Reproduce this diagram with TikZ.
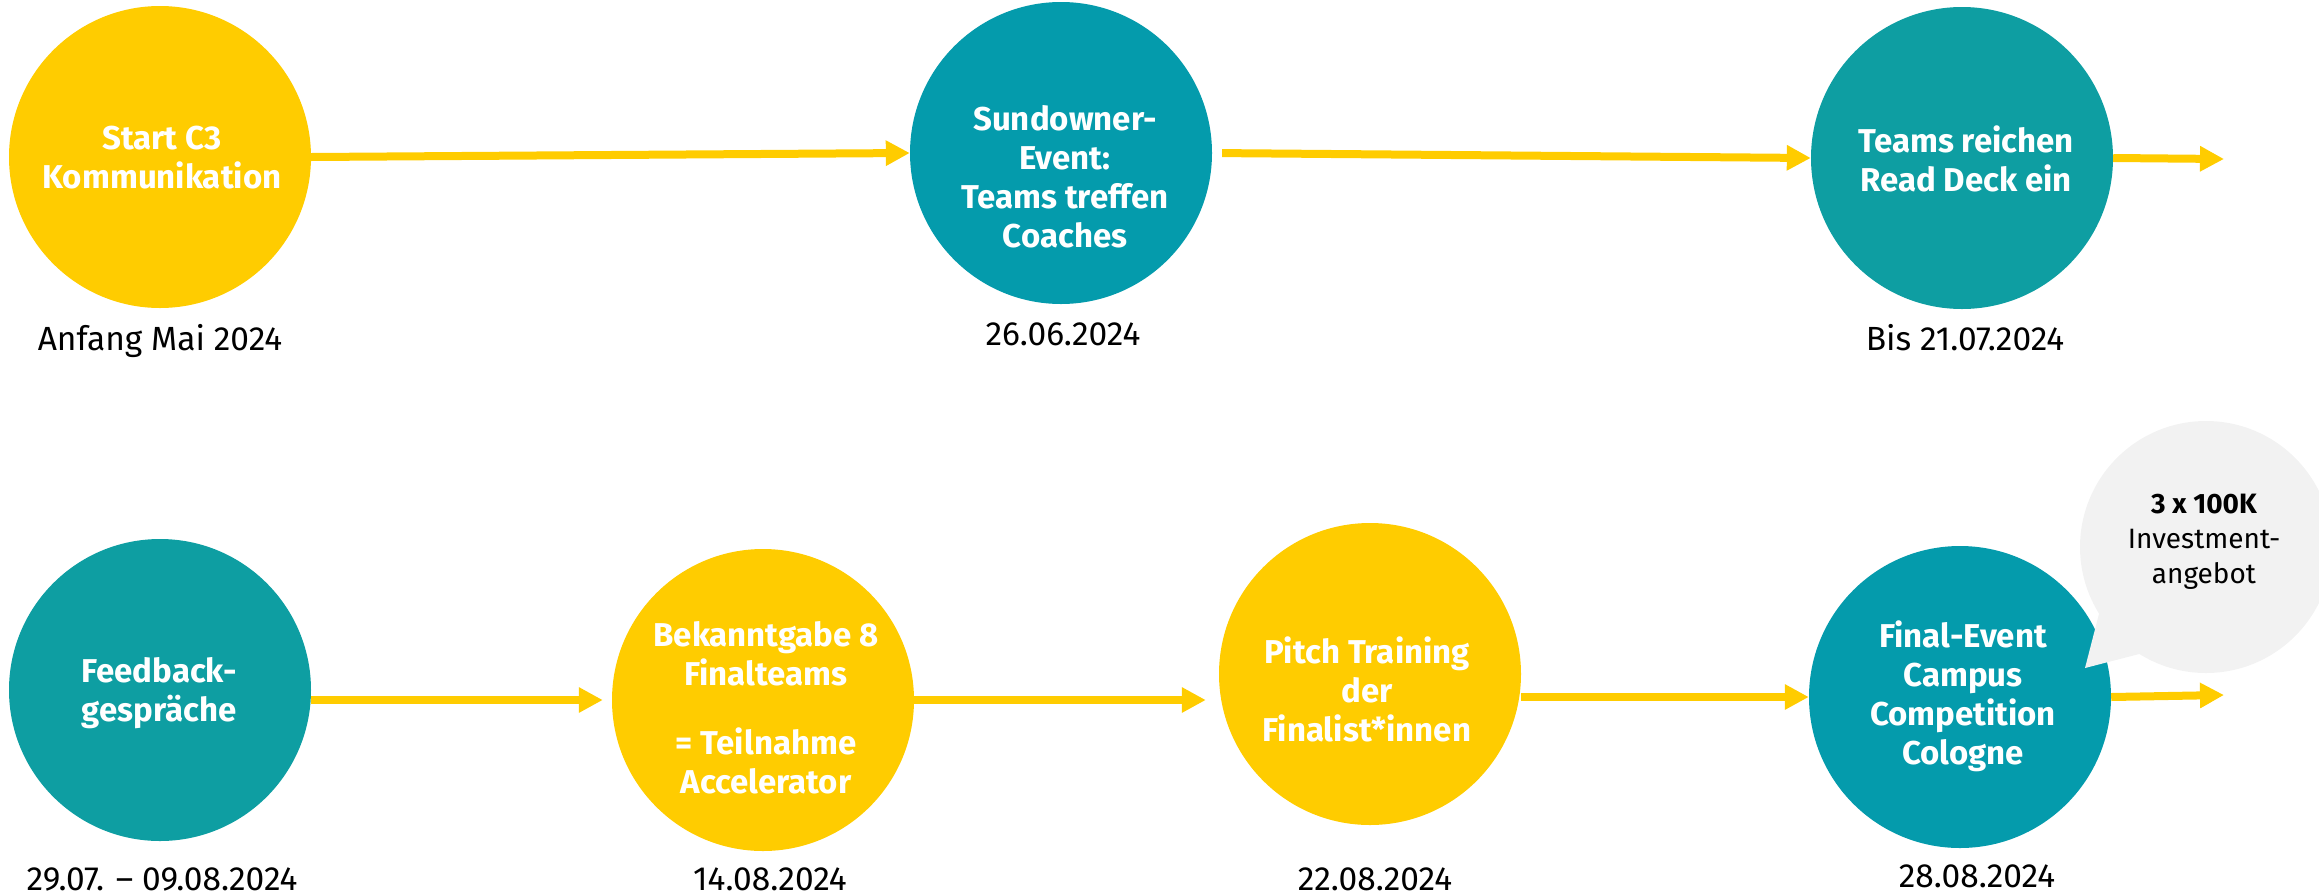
\documentclass[tikz,border=0pt]{standalone}
\usepackage{fontspec}
\setmainfont{Fira Sans}
\usetikzlibrary{arrows.meta}
\definecolor{cyellow}{HTML}{FFCC00}
\definecolor{tealA}{HTML}{049BAC}
\definecolor{tealB}{HTML}{0E9EA2}
\definecolor{bubgray}{HTML}{F2F2F2}
\newcommand{\ml}[1]{\begin{tabular}[t]{@{}c@{}}#1\end{tabular}}
\begin{document}
\begin{tikzpicture}[x=1pt,y=-1pt,
  disc/.style={circle, minimum size=302pt, inner sep=0pt, draw=none},
  lbl/.style={anchor=base, text=white, font=\fontsize{33}{39}\selectfont\bfseries, inner sep=0pt},
  datelbl/.style={anchor=base, text=black, font=\fontsize{33.5}{39}\selectfont, inner sep=0pt},
  bubtxt/.style={anchor=base, text=black, font=\fontsize{28}{35}\selectfont, inner sep=0pt},
  arr/.style={draw=cyellow, line width=8pt, -{Triangle[length=24pt,width=24pt]}}]
\useasboundingbox (0,0) rectangle (2319,895);
\clip (0,0) rectangle (2319,895);

% circles row 1
\node[disc, fill=cyellow] (c1) at (160,157) {};
\node[disc, fill=tealA] (c2) at (1061,153) {};
\node[disc, fill=tealB] (c3) at (1962,158) {};
% circles row 2
\node[disc, fill=tealB] (c4) at (160,690) {};
\node[disc, fill=cyellow] (c5) at (763,700) {};
\node[disc, fill=cyellow] (c6) at (1370,674) {};
\node[disc, fill=tealA] (c7) at (1960,697) {};

% circle texts
\node[lbl] (t1) at (162,149) {\ml{Start C3\\Kommunikation}};
\node[lbl] (t2) at (1065,130) {\ml{Sundowner-\\Event:\\Teams treffen\\Coaches}};
\node[lbl] (t3) at (1966,152) {\ml{Teams reichen\\Read Deck ein}};
\node[lbl] (t4) at (159,682) {\ml{Feedback-\\gespräche}};
\node[lbl] (t5) at (766,646) {\ml{Bekanntgabe 8\\Finalteams\\[30pt]= Teilnahme\\Accelerator}};
\node[lbl] (t6) at (1367,663) {\ml{Pitch Training\\der\\Finalist*innen}};
\node[lbl] (t7) at (1963,647) {\ml{Final-Event\\Campus\\Competition\\Cologne}};

% dates
\node[datelbl] (d1) at (160,350) {Anfang Mai 2024};
\node[datelbl] (d2) at (1063,345) {26.06.2024};
\node[datelbl] (d3) at (1965,350) {Bis 21.07.2024};
\node[datelbl] (d4) at (162,890) {29.07. – 09.08.2024};
\node[datelbl] (d5) at (770,890) {14.08.2024};
\node[datelbl] (d6) at (1375,890) {22.08.2024};
\node[datelbl] (d7) at (1977,887) {28.08.2024};

% arrows
\coordinate (e3) at (2224,159);
\coordinate (e7) at (2224,695);
\draw[arr] (c1.east) -- (c2.west);
\draw[arr, shorten <=10pt] (c2.east) -- (c3.west);
\draw[arr] (c3.east) -- (e3);
\draw[arr, shorten >=9pt] (c4.east |- c5.west) -- (c5.west);
\draw[arr, shorten >=13pt] (c5.east) -- (c6.west |- c5.east);
\draw[arr] (c6.east |- c7.west) -- (c7.west);
\draw[arr] (c7.east) -- (e7);

% speech bubble
\node[circle, minimum size=252pt, inner sep=0pt, fill=bubgray] (bub) at (2206,547) {};
\coordinate (tip) at (2085,668);
\fill[bubgray] (bub.212) -- (tip) -- (bub.238) -- (bub.center) -- cycle;
\node[bubtxt, font=\fontsize{28}{35}\selectfont\bfseries] (b1) at (2204,513) {3 x 100K};
\node[bubtxt] (b2) at (2204,548) {\ml{Investment-\\angebot}};
\end{tikzpicture}
\end{document}
